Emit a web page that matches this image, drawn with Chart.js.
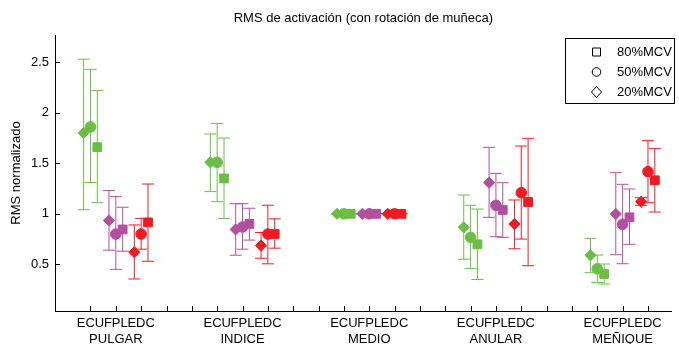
<!DOCTYPE html>
<html>
<head>
<meta charset="utf-8">
<style>
  html, body { margin: 0; padding: 0; background: #fff; }
  #wrap { width: 679px; height: 344px; }
</style>
<script src="https://cdn.jsdelivr.net/npm/chart.js@4.4.0/dist/chart.umd.min.js"></script>
</head>
<body>
<div id="wrap"><canvas id="c" width="679" height="344"></canvas></div>
<script>
// Categories
const fingers = ['PULGAR', 'INDICE', 'MEDIO', 'ANULAR', 'MEÑIQUE'];
const muscles = ['ECU', 'FPL', 'EDC'];
const levelNames = ['80%MCV', '50%MCV', '20%MCV'];
const yTickValues = [0.5, 1, 1.5, 2, 2.5];

// Values per finger, muscle order ECU, FPL, EDC (15 entries each)
const mean20 = [1.80, 0.935, 0.62,   1.51, 0.845, 0.685,  1.00, 1.00, 1.00,  0.866, 1.308, 0.899,  0.589, 0.998, 1.12];
const low20  = [1.04, 0.64,  0.355,  1.22, 0.59,  0.56,   1.00, 1.00, 1.00,  0.55,  0.965, 0.654,  0.417, 0.595, 1.084];
const high20 = [2.53, 1.23,  0.89,   1.79, 1.10,  0.815,  1.00, 1.00, 1.00,  1.186, 1.658, 1.137,  0.757, 1.407, 1.159];

const mean50 = [1.86, 0.80,  0.80,   1.51, 0.87,  0.80,   1.00, 1.00, 1.00,  0.767, 1.084, 1.209,  0.456, 0.896, 1.417];
const low50  = [1.31, 0.45,  0.65,   1.12, 0.65,  0.505,  1.00, 1.00, 1.00,  0.46,  0.773, 0.75,   0.32,  0.506, 1.11];
const high50 = [2.43, 1.17,  0.955,  1.895, 1.10, 1.085,  1.00, 1.00, 1.00,  1.084, 1.40,  1.671,  0.592, 1.292, 1.724];

const mean80 = [1.66, 0.845, 0.915,  1.35, 0.90,  0.80,   1.00, 1.00, 1.00,  0.698, 1.038, 1.117,  0.404, 0.965, 1.332];
const low80  = [1.11, 0.63,  0.53,   0.955, 0.74, 0.66,   1.00, 1.00, 1.00,  0.35,  0.767, 0.486,  0.305, 0.698, 1.018];
const high80 = [2.22, 1.065, 1.295,  1.75, 1.055, 0.95,   1.00, 1.00, 1.00,  1.047, 1.308, 1.747,  0.503, 1.246, 1.645];

// Look
const muscleColors = ['#6cbd45', '#b2509f', '#ed1c24'];
const FONT = '"Liberation Sans", Arial, Helvetica, sans-serif';
Chart.defaults.font.family = FONT;
Chart.defaults.font.size = 13;
Chart.defaults.color = '#000';

const SLOTS_PER_FINGER = 5;
function slotOf(i) {
  const f = Math.floor(i / 3), m = i % 3;
  return f * SLOTS_PER_FINGER + m + 1;
}
const xTickValues = [];
for (let v = 1; v <= fingers.length * SLOTS_PER_FINGER - 2; v++) xTickValues.push(v);

function xLabel(v) {
  const idx = Math.round(v) - 1;
  const f = Math.floor(idx / SLOTS_PER_FINGER), m = idx % SLOTS_PER_FINGER;
  if (m < 3) return [muscles[m], m === 1 ? fingers[f] : ''];
  return '';
}

function makeSet(label, style, radius, offset, means, lows, highs) {
  const colors = means.map((_, i) => muscleColors[i % 3]);
  return {
    label,
    data: means.map((y, i) => ({ x: slotOf(i) + offset, y })),
    lows, highs,
    pointStyle: style,
    pointRadius: radius,
    pointBackgroundColor: colors,
    pointBorderColor: colors,
    pointBorderWidth: 1,
    showLine: false
  };
}

const datasets = [
  makeSet('20%MCV', 'rectRot', 5.6, -0.27, mean20, low20, high20),
  makeSet('50%MCV', 'circle', 5.3, 0, mean50, low50, high50),
  makeSet('80%MCV', 'rect', 6.2, 0.27, mean80, low80, high80)
];

// vertical error bars with caps, under the markers
const errorBars = {
  id: 'errorBars',
  beforeDatasetsDraw(chart) {
    const ctx = chart.ctx, ys = chart.scales.y;
    ctx.save();
    ctx.lineWidth = 1;
    chart.data.datasets.forEach((ds, di) => {
      const meta = chart.getDatasetMeta(di);
      meta.data.forEach((pt, i) => {
        const x = pt.x;
        const yl = ys.getPixelForValue(ds.lows[i]);
        const yh = ys.getPixelForValue(ds.highs[i]);
        ctx.strokeStyle = muscleColors[i % 3];
        ctx.beginPath();
        ctx.moveTo(x, yl); ctx.lineTo(x, yh);
        ctx.moveTo(x - 6, yl); ctx.lineTo(x + 6, yl);
        ctx.moveTo(x - 6, yh); ctx.lineTo(x + 6, yh);
        ctx.stroke();
      });
    });
    ctx.restore();
  }
};

// inward tick marks, title and legend box
const frame = {
  id: 'frame',
  afterDraw(chart) {
    const ctx = chart.ctx, xs = chart.scales.x, ys = chart.scales.y;
    const a = chart.chartArea;
    ctx.save();
    ctx.strokeStyle = '#000';
    ctx.lineWidth = 1;
    ctx.beginPath();
    yTickValues.forEach(v => {
      const py = Math.round(ys.getPixelForValue(v)) + 0.5;
      ctx.moveTo(a.left, py); ctx.lineTo(a.left + 5, py);
    });
    xTickValues.forEach(v => {
      const px = Math.round(xs.getPixelForValue(v)) + 0.5;
      ctx.moveTo(px, a.bottom); ctx.lineTo(px, a.bottom - 5);
    });
    ctx.stroke();

    // title
    ctx.fillStyle = '#000';
    ctx.font = '13px ' + FONT;
    ctx.textAlign = 'center';
    ctx.textBaseline = 'middle';
    ctx.fillText('RMS de activación (con rotación de muñeca)', (a.left + a.right) / 2, 18);

    // legend
    const bx = 565.5, by = 38.5, bw = 109, bh = 65;
    ctx.fillStyle = '#fff';
    ctx.fillRect(bx, by, bw, bh);
    ctx.strokeRect(bx, by, bw, bh);
    const rows = [52, 72, 92];
    const sx = 596.5;
    ctx.beginPath();
    ctx.rect(sx - 4, rows[0] - 4, 8, 8);
    ctx.stroke();
    ctx.beginPath();
    ctx.arc(sx, rows[1], 4.3, 0, Math.PI * 2);
    ctx.stroke();
    ctx.beginPath();
    ctx.moveTo(sx, rows[2] - 5.5); ctx.lineTo(sx + 5, rows[2]);
    ctx.lineTo(sx, rows[2] + 5.5); ctx.lineTo(sx - 5, rows[2]);
    ctx.closePath();
    ctx.stroke();
    ctx.fillStyle = '#000';
    ctx.textAlign = 'left';
    levelNames.forEach((t, k) => ctx.fillText(t, 617, rows[k] + 0.5));
    ctx.restore();
  }
};

new Chart(document.getElementById('c'), {
  type: 'scatter',
  data: { datasets },
  options: {
    responsive: false,
    animation: false,
    events: [],
    layout: { padding: { top: 35, right: 1, left: 0, bottom: 0 } },
    plugins: { legend: { display: false }, tooltip: { enabled: false }, title: { display: false } },
    scales: {
      x: {
        type: 'linear',
        min: -0.4,
        max: 23.94,
        afterBuildTicks: s => { s.ticks = xTickValues.map(v => ({ value: v })); },
        afterFit: s => { s.height = 33; },
        grid: { display: false, drawTicks: false },
        border: { display: true, color: '#000', width: 1 },
        ticks: {
          autoSkip: false, maxRotation: 0, minRotation: 0, padding: 4,
          font: { size: 13, lineHeight: 1.23 }, color: '#000',
          callback: v => xLabel(v)
        }
      },
      y: {
        type: 'linear',
        min: 0.038,
        max: 2.77,
        afterBuildTicks: s => { s.ticks = yTickValues.map(v => ({ value: v })); },
        afterFit: s => { s.width = 55; },
        grid: { display: false, drawTicks: false },
        border: { display: true, color: '#000', width: 1 },
        ticks: { padding: 6, font: { size: 13 }, color: '#000', callback: v => String(v) },
        title: { display: true, text: 'RMS normalizado', font: { size: 13 }, color: '#000', padding: { top: 9, bottom: 0 } }
      }
    }
  },
  plugins: [errorBars, frame]
});
</script>
</body>
</html>
